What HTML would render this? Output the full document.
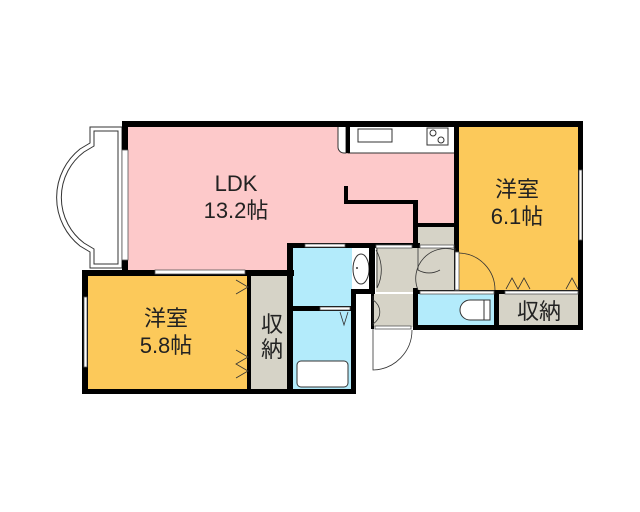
<!DOCTYPE html>
<html><head><meta charset="utf-8"><style>
body{margin:0;background:#fff;width:640px;height:512px;overflow:hidden}
svg{display:block}
text{font-family:"Liberation Sans","Noto Sans CJK JP",sans-serif;fill:#222}
</style></head><body>
<svg width="640" height="512" viewBox="0 0 640 512">
<rect x="125" y="124" width="332" height="148" fill="#fdc9ca"/>
<rect x="290" y="247" width="170" height="30" fill="#fff"/>
<rect x="416" y="226" width="42" height="22" fill="#d6d3c7"/>
<rect x="457" y="124" width="122" height="166" fill="#fcc95a"/>
<rect x="85" y="274" width="165" height="116" fill="#fcc95a"/>
<rect x="250" y="274" width="40" height="116" fill="#d6d3c7"/>
<rect x="292" y="248" width="60" height="59" fill="#b3ebfb"/>
<rect x="292" y="311" width="60" height="80" fill="#b3ebfb"/>
<rect x="376" y="248" width="80" height="44" fill="#d6d3c7"/>
<rect x="373" y="294" width="40" height="33" fill="#d6d3c7"/>
<rect x="417" y="294" width="80" height="32" fill="#b3ebfb"/>
<rect x="499" y="294" width="80" height="32" fill="#d6d3c7"/>
<path d="M90 127 L122 127 L122 268 L90 268 L90 252 L80 246 A62 62 0 0 1 80 149 L90 143 Z" fill="#fff" stroke="#333" stroke-width="1"/>
<path d="M94 131 L118 131 L118 264 L94 264 L94 249 L84 243 A57 57 0 0 1 84 152 L94 146 Z" fill="none" stroke="#333" stroke-width="1"/>
<rect x="348" y="124" width="108" height="29" fill="#fff" stroke="#333"/>
<rect x="358" y="129" width="34" height="13" fill="none" stroke="#333"/>
<rect x="427" y="128" width="21" height="17" fill="none" stroke="#333"/>
<circle cx="433" cy="133" r="3" fill="none" stroke="#333"/><circle cx="441" cy="140" r="3" fill="none" stroke="#333"/>
<path d="M338 124 L346 124 L346 153 L344 153 A6 6 0 0 1 338 147 Z" fill="#fff" stroke="#333"/>
<rect x="352" y="249" width="20" height="40" fill="#fff"/>
<ellipse cx="361" cy="269" rx="8" ry="15" fill="#fff" stroke="#333"/>
<circle cx="357" cy="268" r="1" fill="#333"/>
<rect x="297" y="361" width="51" height="26" rx="4" fill="#fff" stroke="#333"/>
<rect x="356" y="295" width="16" height="31" fill="#fff"/>
<path d="M490 300 L490 320 L470 320 A10 10 0 0 1 470 300 Z" fill="#fff" stroke="#333"/>
<line x1="484" y1="300" x2="484" y2="320" stroke="#333"/>
<g fill="#000">
<rect x="122" y="121" width="460" height="6"/>
<rect x="122" y="121" width="6" height="152"/>
<rect x="82" y="270" width="212" height="6"/>
<rect x="82" y="270" width="6" height="124"/>
<rect x="82" y="389" width="274" height="5"/>
<rect x="247" y="274" width="4" height="118"/>
<rect x="287" y="243" width="6" height="150"/>
<rect x="287" y="243" width="133" height="5"/>
<rect x="413" y="200" width="5" height="48"/>
<rect x="344" y="186" width="4" height="18"/>
<rect x="344" y="200" width="74" height="4"/>
<rect x="454" y="121" width="5" height="172"/>
<rect x="578" y="121" width="5" height="208"/>
<rect x="413" y="223" width="45" height="4"/>
<rect x="346" y="121" width="4" height="32"/>
<rect x="369" y="245" width="6" height="48"/>
<rect x="351" y="289" width="24" height="5"/>
<rect x="351" y="289" width="5" height="104"/>
<rect x="290" y="306" width="62" height="5"/>
<rect x="371" y="289" width="3" height="40"/>
<rect x="413" y="288" width="5" height="42"/>
<rect x="413" y="290" width="170" height="4"/>
<rect x="413" y="325" width="170" height="5"/>
<rect x="494" y="290" width="5" height="40"/>
</g>
<g fill="#fff" stroke="#555" stroke-width="0.8">
<rect x="122" y="150" width="6" height="110"/>
<rect x="84" y="297" width="3" height="70"/>
<rect x="155" y="270" width="90" height="4"/>
<rect x="579" y="170" width="3" height="70"/>
<rect x="305" y="244" width="40" height="3"/>
<rect x="320" y="307" width="30" height="3"/>
<rect x="376" y="245" width="36" height="3"/>
<rect x="420" y="245" width="34" height="3"/>
<rect x="420" y="291" width="74" height="3"/>
<rect x="505" y="291" width="73" height="3"/>
<rect x="455" y="252" width="4" height="38"/>
<rect x="375" y="326" width="36" height="3"/>
</g>
<g fill="none" stroke="#333" stroke-width="0.8">
<path d="M377 288 L377 248 M377 288 A40 40 0 0 0 376 250"/>
<path d="M459 253 A37 37 0 0 1 495 290 L495 290"/>
<path d="M418 248 L418 270 A22 22 0 0 0 440 270 M455 248 L455 270"/>
<path d="M418 290 A30 30 0 0 1 455 250"/>
<path d="M373 300 A14 14 0 0 1 373 324 M373 296 L373 326"/>
<path d="M373 329 L373 370 A40 40 0 0 0 412 330"/>
<path d="M236 280 L248 287 L236 294 M236 350 L248 357 L236 364 L248 371 L236 378"/>
<path d="M506 289 L512 278 L518 289 L524 278 L530 289 M566 289 L572 278 L578 289"/>
<path d="M340 312 L344 325 L348 312"/>
</g>
<text x="236" y="191" font-size="22" text-anchor="middle">LDK</text>
<text x="236" y="218" font-size="22" text-anchor="middle">13.2帖</text>
<text x="517" y="197" font-size="22" text-anchor="middle">洋室</text>
<text x="517" y="224" font-size="22" text-anchor="middle">6.1帖</text>
<text x="166" y="326" font-size="22" text-anchor="middle">洋室</text>
<text x="166" y="353" font-size="22" text-anchor="middle">5.8帖</text>
<text x="272" y="332" font-size="22" text-anchor="middle">収</text>
<text x="272" y="357" font-size="22" text-anchor="middle">納</text>
<text x="539" y="319" font-size="22" text-anchor="middle">収納</text>
</svg>
</body></html>
